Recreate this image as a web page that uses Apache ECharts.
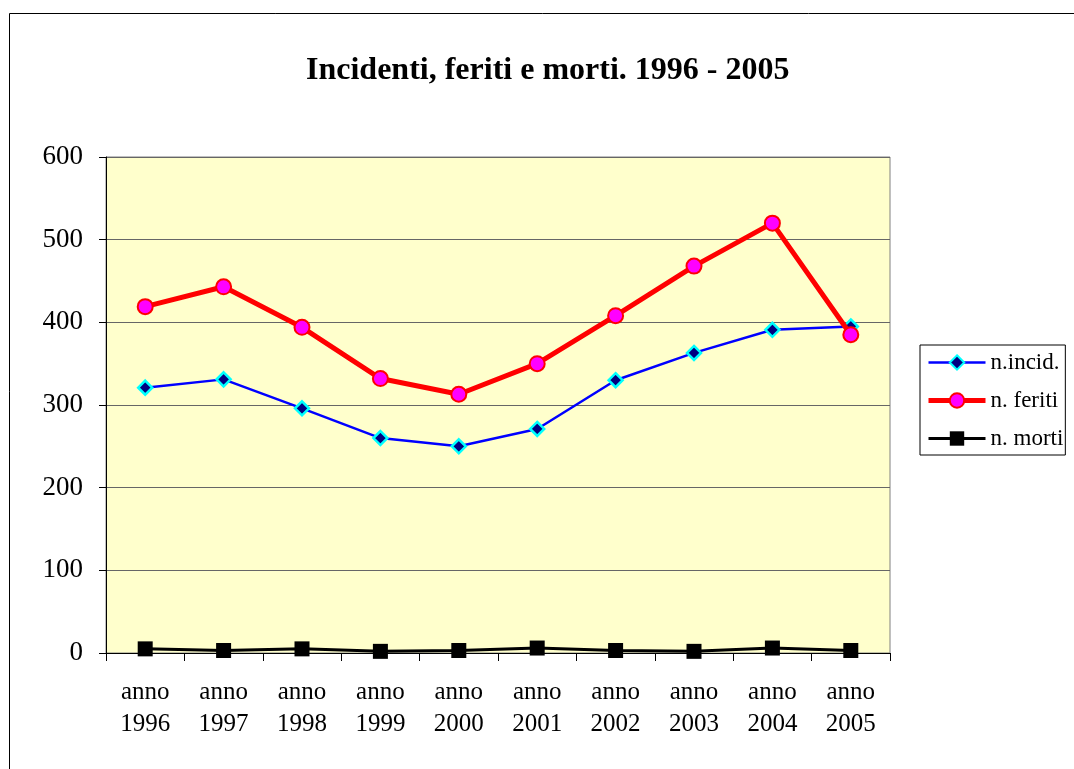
<!DOCTYPE html>
<html><head><meta charset="utf-8">
<script src="https://cdn.jsdelivr.net/npm/echarts@6/dist/echarts.min.js"></script>
<style>html,body{margin:0;padding:0;background:#fff}#c{width:1074px;height:769px}</style>
</head><body><div id="c"></div>
<script>
var categories = ['anno\n1996','anno\n1997','anno\n1998','anno\n1999','anno\n2000','anno\n2001','anno\n2002','anno\n2003','anno\n2004','anno\n2005'];
var incidenti = [321, 331, 296, 260, 250, 271, 330, 363, 391, 395];
var feriti = [419, 443, 394, 332, 313, 350, 408, 468, 520, 385];
var morti = [5, 3, 5, 2, 3, 6, 3, 2, 6, 3];
var titleText = 'Incidenti, feriti e morti. 1996 - 2005';
var seriesNames = ['n.incid.', 'n. feriti', 'n. morti'];

var FONT = '"Liberation Serif", "Times New Roman", serif';
var chart = echarts.init(document.getElementById('c'));
chart.setOption({
  animation: false,
  backgroundColor: '#fff',
  graphic: [{type:'rect', shape:{x:9.5, y:13.5, width:1200, height:900}, style:{fill:'none', stroke:'#000', lineWidth:1}, z:-1}],
  title: {text: titleText, left: 306, top: 55, padding: 0, textStyle:{fontFamily: FONT, fontSize: 32, fontWeight:'bold', color:'#000'}},
  legend: {
    orient:'vertical', left: 920, top: 345,
    data: [
      {name: seriesNames[0], lineStyle:{width:2.5}},
      {name: seriesNames[1], lineStyle:{width:5}},
      {name: seriesNames[2], lineStyle:{width:3}}
    ],
    itemWidth: 57, itemHeight: 18, itemGap: 15,
    padding: [6, 2, 5, 6],
    borderColor:'#000', borderWidth:1, backgroundColor:'#fff',
    textStyle:{fontFamily: FONT, fontSize: 23, color:'#000'}
  },
  grid: {left: 106, top: 157, right: 184, bottom: 116, show: true, backgroundColor:'#FFFFCC', borderColor:'#808080', borderWidth:1},
  xAxis: {
    type:'category', data: categories, boundaryGap: true,
    axisLine:{lineStyle:{color:'#000', width:1}},
    axisTick:{show:true, length:8, lineStyle:{color:'#000'}, alignWithLabel:false},
    axisLabel:{fontFamily: FONT, fontSize: 25, color:'#000', lineHeight: 32, margin: 23}
  },
  yAxis: {
    type:'value', min:0, max:600, interval:100,
    axisLine:{show:true, lineStyle:{color:'#000', width:1}},
    axisTick:{show:true, length:7, lineStyle:{color:'#000'}},
    axisLabel:{fontFamily: FONT, fontSize: 27, color:'#000', margin: 23},
    splitLine:{show:true, lineStyle:{color:'#666', width:1}}
  },
  series: [
    {name: seriesNames[0], type:'line', data: incidenti, symbol:'diamond', symbolSize: 14,
     lineStyle:{color:'#0000FF', width:2.5}, itemStyle:{color:'#000080', borderColor:'#00FFFF', borderWidth:2.5}, z: 3},
    {name: seriesNames[1], type:'line', data: feriti, symbol:'circle', symbolSize: 15,
     lineStyle:{color:'#FF0000', width:5}, itemStyle:{color:'#FF00FF', borderColor:'#FF0000', borderWidth:2}, z: 4},
    {name: seriesNames[2], type:'line', data: morti, symbol:'rect', symbolSize: 15,
     lineStyle:{color:'#000', width:3}, itemStyle:{color:'#000', borderColor:'#000', borderWidth:0}, z: 5}
  ]
});
</script></body></html>
